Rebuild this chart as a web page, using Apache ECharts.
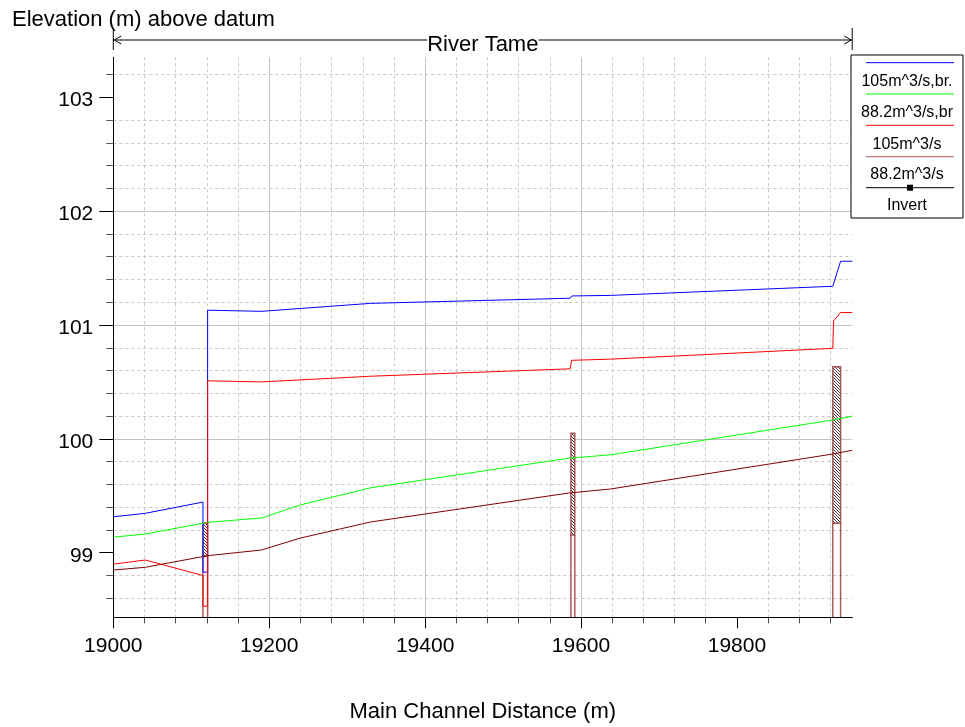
<!DOCTYPE html>
<html><head><meta charset="utf-8">
<script src="https://cdn.jsdelivr.net/npm/echarts@6/dist/echarts.min.js"></script>
<style>html,body{margin:0;padding:0;background:#fff}#c{width:965px;height:727px}</style>
</head><body><div id="c"></div>
<script>
// ---- axis ranges and tick labels ----
const X_MIN = 19000, X_MAX = 19948;
const Y_MIN = 98.433, Y_MAX = 103.351;
const xTickLabels = [19000, 19200, 19400, 19600, 19800];
const yTickLabels = [99, 100, 101, 102, 103];

// ---- series names (legend) ----
const seriesNames = ['105m^3/s,br.', '88.2m^3/s,br', '105m^3/s', '88.2m^3/s', 'Invert'];

// ---- water surface profiles (chainage m, elevation m) ----
const blueX = [19000, 19041, 19115, 19115, 19121, 19121, 19190, 19330, 19586, 19588, 19638, 19923, 19933, 19948];
const blueY = [99.316, 99.346, 99.445, 98.83, 98.83, 101.13, 101.12, 101.19, 101.235, 101.255, 101.26, 101.34, 101.56, 101.56];

const greenX = [19000, 19041, 19121, 19190, 19240, 19330, 19584, 19638, 19923, 19948];
const greenY = [99.137, 99.164, 99.267, 99.305, 99.42, 99.57, 99.83, 99.86, 100.166, 100.20];

const redX = [19000, 19041, 19115, 19115, 19121, 19121, 19190, 19330, 19586, 19588, 19638, 19923, 19924, 19933, 19948];
const redY = [98.90, 98.936, 98.80, 98.53, 98.53, 100.51, 100.50, 100.55, 100.615, 100.69, 100.70, 100.795, 101.035, 101.11, 101.11];

const brownX = [19000, 19041, 19121, 19190, 19240, 19330, 19584, 19638, 19923, 19948];
const brownY = [98.848, 98.872, 98.974, 99.024, 99.129, 99.27, 99.524, 99.56, 99.867, 99.90];

const invertX = [];
const invertY = [];

// ---- bridge structures ----
const bridgeX1 = [19115, 19587, 19923];
const bridgeX2 = [19121, 19592, 19933];
const deckTop = [99.26, 100.05, 100.634];
const deckSoffit = [98.97, 99.155, 99.258];

const FONT = 'Liberation Sans, Arial, sans-serif';
const zip = (xs, ys) => xs.map((x, i) => [x, ys[i]]);

// hatch pattern
const pc = document.createElement('canvas');
pc.width = 3; pc.height = 3;
const pctx = pc.getContext('2d');
pctx.fillStyle = '#ffffff'; pctx.fillRect(0, 0, 3, 3);
pctx.fillStyle = '#3a3a3a';
pctx.fillRect(0, 0, 1, 1); pctx.fillRect(1, 1, 1, 1); pctx.fillRect(2, 2, 1, 1);
const hatch = { image: pc, repeat: 'repeat' };

const chart = echarts.init(document.getElementById('c'), null, { renderer: 'canvas' });

function lineSeries(name, color, xs, ys) {
  return {
    type: 'line', name, data: zip(xs, ys), showSymbol: false, symbol: 'none',
    lineStyle: { color, width: 1 }, itemStyle: { color }, clip: true, z: 3,
    animation: false
  };
}

const option = {
  animation: false,
  backgroundColor: '#ffffff',
  title: {
    text: 'Elevation (m) above datum', left: 7, top: 4,
    textStyle: { fontFamily: FONT, fontSize: 22, fontWeight: 'normal', color: '#000' }
  },
  grid: { left: 113.3, right: 112.7, top: 57.3, bottom: 109.7, containLabel: false, outerBoundsMode: 'none' },
  xAxis: {
    type: 'value', min: X_MIN, max: X_MAX, splitNumber: 5, minInterval: 200, maxInterval: 200,
    name: 'Main Channel Distance (m)', nameLocation: 'middle', nameGap: 84,
    nameTextStyle: { fontFamily: FONT, fontSize: 22, color: '#000' },
    axisLine: { onZero: false, lineStyle: { color: '#000', width: 1 } },
    axisTick: { show: true, length: 11, customValues: xTickLabels, lineStyle: { color: '#000', width: 1 } },
    minorTick: { show: true, splitNumber: 5, length: 6, lineStyle: { color: '#444', width: 1 } },
    axisLabel: {
      margin: 18, fontFamily: FONT, fontSize: 21, color: '#000', customValues: xTickLabels,
      formatter: v => String(v)
    },
    splitLine: { show: true, showMinLine: false, showMaxLine: false, lineStyle: { color: '#c4c4c4', width: 1 } },
    minorSplitLine: { show: true, lineStyle: { color: '#c8c8c8', width: 1, type: [3, 3] } }
  },
  yAxis: {
    type: 'value', min: Y_MIN, max: Y_MAX, splitNumber: 5, minInterval: 1, maxInterval: 1,
    axisLine: { onZero: false, lineStyle: { color: '#000', width: 1 } },
    axisTick: { show: true, length: 14, customValues: yTickLabels, lineStyle: { color: '#000', width: 1 } },
    minorTick: { show: true, splitNumber: 5, length: 7, lineStyle: { color: '#555', width: 1 } },
    axisLabel: {
      margin: 20, fontFamily: FONT, fontSize: 21, color: '#000', customValues: yTickLabels,
      verticalAlign: 'top', lineHeight: 6,
      formatter: v => String(Math.round(v))
    },
    splitLine: { show: true, showMinLine: false, showMaxLine: false, lineStyle: { color: '#c4c4c4', width: 1 } },
    minorSplitLine: { show: true, lineStyle: { color: '#c8c8c8', width: 1, type: [3, 3] } }
  },
  series: [
    {
      type: 'custom', name: 'bridges', silent: true, clip: true, z: 2,
      dimensions: ['x1', 'x2', 'top', 'bot'],
      encode: { x: [0, 1], y: [2, 3] },
      data: bridgeX1.map((x, i) => [x, bridgeX2[i], deckTop[i], deckSoffit[i]]),
      renderItem: (params, api) => {
        const x1 = api.value(0), x2 = api.value(1), t = api.value(2), b = api.value(3);
        const pTL = api.coord([x1, t]);
        const pBR = api.coord([x2, b]);
        const pB1 = api.coord([x1, Y_MIN]);
        const pB2 = api.coord([x2, Y_MIN]);
        const stroke = 'rgba(150,50,50,0.8)';
        return {
          type: 'group', children: [
            { type: 'rect', shape: { x: pTL[0], y: pTL[1], width: pBR[0] - pTL[0], height: pBR[1] - pTL[1] },
              style: { fill: hatch, stroke: stroke, lineWidth: 1.5 } },
            { type: 'line', shape: { x1: pTL[0], y1: pBR[1], x2: pB1[0], y2: pB1[1] },
              style: { stroke: stroke, lineWidth: 1.5 } },
            { type: 'line', shape: { x1: pBR[0], y1: pBR[1], x2: pB2[0], y2: pB2[1] },
              style: { stroke: stroke, lineWidth: 1.5 } }
          ]
        };
      }
    },
    lineSeries(seriesNames[0], '#0000ff', blueX, blueY),
    lineSeries(seriesNames[1], '#00ff00', greenX, greenY),
    lineSeries(seriesNames[2], '#ff0000', redX, redY),
    lineSeries(seriesNames[3], '#800000', brownX, brownY),
    lineSeries(seriesNames[4], '#000000', invertX, invertY)
  ]
};
chart.setOption(option);

// ---- annotation arrow ("River Tame") and legend box ----
const pL = chart.convertToPixel({ gridIndex: 0 }, [X_MIN, Y_MAX]);
const pR = chart.convertToPixel({ gridIndex: 0 }, [X_MAX, Y_MAX]);
const ay = pL[1] - 17.3;
const lx = pL[0], rx = pR[0];
const gs = { stroke: '#000', lineWidth: 1 };
const graphics = [
  { type: 'line', shape: { x1: lx, y1: ay, x2: rx, y2: ay }, style: gs, z: 50 },
  { type: 'line', shape: { x1: lx, y1: ay - 10, x2: lx, y2: ay + 10 }, style: gs, z: 50 },
  { type: 'line', shape: { x1: rx, y1: ay - 12, x2: rx, y2: ay + 10 }, style: { stroke: '#555', lineWidth: 1.5 }, z: 50 },
  { type: 'polyline', shape: { points: [[lx + 8, ay - 4], [lx + 1, ay], [lx + 8, ay + 4]] }, style: { stroke: '#000', fill: null, lineWidth: 1 }, z: 50 },
  { type: 'polyline', shape: { points: [[rx - 8, ay - 4], [rx - 1, ay], [rx - 8, ay + 4]] }, style: { stroke: '#000', fill: null, lineWidth: 1 }, z: 50 },
  { type: 'text', x: (lx + rx) / 2, y: ay + 5, z: 51,
    style: { text: 'River Tame', font: '22px ' + FONT, fill: '#000', align: 'center', verticalAlign: 'middle', backgroundColor: '#fff', padding: [0, 0, 0, 0] } }
];

// legend
const legColors = ['#0000ff', '#00ff00', '#ff0000', '#a85c5c', '#000000'];
const LX = 851, LY = 55, LW = 112, LH = 163;
const legChildren = [
  { type: 'rect', shape: { x: 0, y: 0, width: LW, height: LH }, style: { fill: '#fff', stroke: '#000', lineWidth: 1 } }
];
const lineYs = [7.7, 39, 70.3, 101.7, 132.7];
const textYs = [26.7, 57.6, 89.3, 120, 151];
seriesNames.forEach((n, i) => {
  legChildren.push({ type: 'line', shape: { x1: 15, y1: lineYs[i], x2: 103, y2: lineYs[i] }, style: { stroke: legColors[i], lineWidth: 1 } });
  legChildren.push({ type: 'text', x: 56, y: textYs[i], style: { text: n, font: '16px ' + FONT, fill: '#000', align: 'center', verticalAlign: 'middle' } });
});
legChildren.push({ type: 'rect', shape: { x: 56, y: lineYs[4] - 3, width: 6, height: 6 }, style: { fill: '#000' } });
graphics.push({ type: 'group', x: LX, y: LY, z: 60, children: legChildren });

chart.setOption({ graphic: graphics });
</script>
</body></html>
